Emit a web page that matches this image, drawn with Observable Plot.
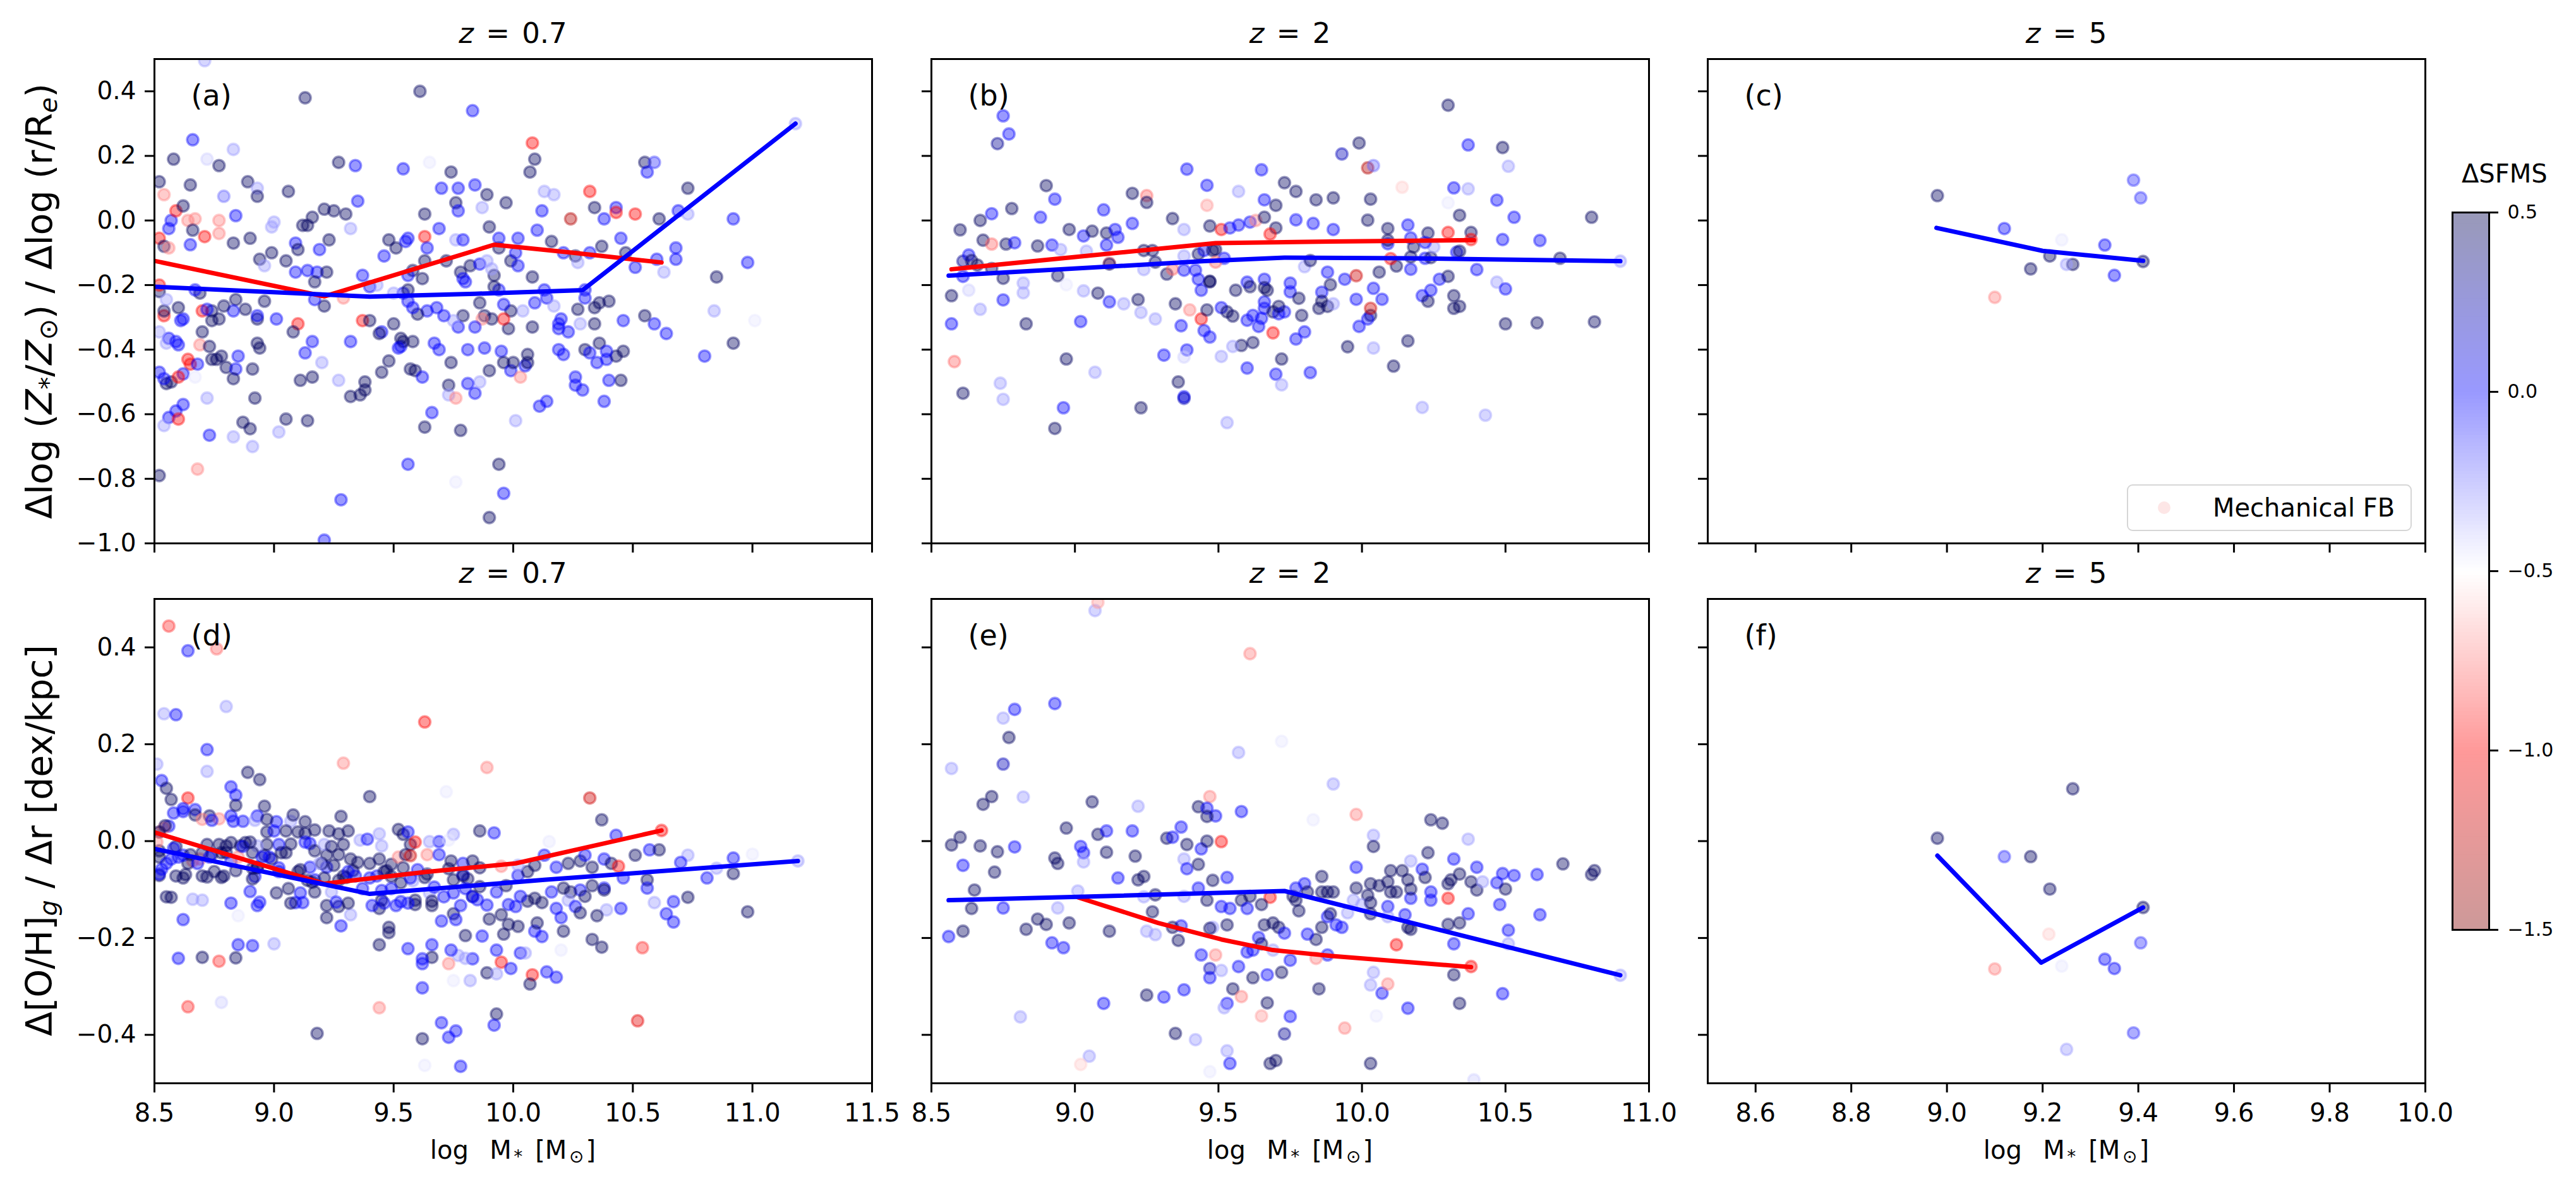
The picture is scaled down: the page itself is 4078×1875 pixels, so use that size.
<!DOCTYPE html>
<html><head><meta charset="utf-8">
<script src="https://cdn.jsdelivr.net/npm/d3@7"></script>
<script src="https://cdn.jsdelivr.net/npm/@observablehq/plot@0.6"></script>
<style>
html,body{margin:0;padding:0;background:#fff;}
#fig{position:relative;width:4078px;height:1875px;background:#fff;font-family:"DejaVu Sans",sans-serif;color:#000;overflow:hidden;}
.t{position:absolute;white-space:nowrap;line-height:1;}
.t sub{font-size:0.7em;vertical-align:-0.22em;line-height:0;}
.xl sub{margin:0 0.12em;}
.rot{transform:translate(-50%,-50%) rotate(-90deg);}
.ctr{transform:translateX(-50%);}
</style></head><body><div id="fig"></div>
<script>
// ---------- data: [log M*, gradient, ΔSFMS] ----------
const panelA = [[8.71,0.495,-0.3],[9.13,0.38,0.45],[9.61,0.40,0.45],[9.83,0.34,0],[8.66,0.25,0],[8.83,0.22,-0.3],[10.08,0.24,-1],[8.58,0.19,0.45],[8.72,0.19,-0.4],[8.77,0.17,0.45],[9.27,0.18,0.45],[9.34,0.17,0],[9.54,0.16,0],[9.65,0.18,-0.45],[10.09,0.19,0.45],[10.07,0.15,0.45],[10.55,0.18,0.45],[10.59,0.18,-0.1],[10.56,0.15,0],[10.73,0.10,0.45],[11.18,0.30,-0.3],[8.52,0.12,0.45],[8.54,0.08,-0.75],[8.65,0.11,0.45],[8.79,0.075,-0.2],[8.89,0.12,0.45],[8.93,0.10,-0.3],[8.93,0.075,0.45],[9.06,0.09,0.45],[9.21,0.035,0.45],[9.25,0.03,0.45],[9.30,0.02,0.45],[9.35,0.06,0],[9.16,0.01,0.45],[9.12,-0.015,0.45],[9.14,-0.015,0.45],[9.32,-0.025,-0.3],[9.63,0.02,0.45],[9.69,-0.025,0],[9.70,0.10,0],[9.74,0.15,0.45],[9.77,0.10,0],[9.84,0.11,0],[9.89,0.08,0.45],[9.97,0.055,0.45],[9.76,0.055,0.45],[9.77,0.03,0],[9.87,0.04,-0.3],[10.13,0.09,-0.3],[10.17,0.08,-0.3],[10.12,0.03,0],[10.10,-0.03,0],[9.90,-0.02,0.45],[10.32,0.09,-1],[10.24,0.005,-1.3],[10.34,0.04,0.45],[10.38,0.005,0],[10.43,0.04,0],[10.43,0.025,-1],[10.51,0.02,-1],[10.61,0.005,0.45],[10.69,0.03,0],[10.73,0.02,-0.3],[10.92,0.005,0],[8.57,0.0,0],[8.59,0.03,-1],[8.62,0.045,0.45],[8.64,0.0,-0.75],[8.67,0.005,-0.75],[8.77,0.0,-0.75],[8.84,0.015,0],[8.71,-0.05,-1],[8.77,-0.04,-0.75],[8.56,-0.025,0],[8.66,-0.03,0.45],[8.52,-0.055,-1],[8.54,-0.08,0.45],[8.56,-0.085,-0.75],[8.65,-0.075,0],[8.83,-0.07,0.45],[8.90,-0.055,0.45],[9.00,-0.005,-0.3],[8.99,-0.02,-0.3],[9.09,-0.07,0],[9.10,-0.09,0.45],[9.19,-0.09,0],[9.23,-0.06,0.45],[8.99,-0.10,0.45],[8.94,-0.12,0.45],[8.96,-0.14,-0.3],[9.05,-0.125,0.45],[9.09,-0.16,0],[9.14,-0.155,0],[9.18,-0.16,0],[9.22,-0.16,0.45],[9.17,-0.19,0.45],[9.21,-0.265,0.45],[9.17,-0.245,0],[9.29,-0.24,-0.75],[9.37,-0.17,0],[9.40,-0.205,0],[9.43,-0.20,-0.3],[9.46,-0.11,0],[9.48,-0.06,0.45],[9.51,-0.085,0.45],[9.55,-0.065,0],[9.56,-0.055,0],[9.63,-0.05,-1],[9.64,-0.085,0],[9.72,-0.125,0.45],[9.76,-0.06,-0.3],[9.79,-0.06,0],[9.63,-0.125,0.45],[9.58,-0.155,0.45],[9.56,-0.17,0],[9.62,-0.18,0.45],[9.78,-0.16,0.45],[9.79,-0.18,0],[9.80,-0.19,0],[9.82,-0.14,0.45],[9.86,-0.135,0],[9.89,-0.125,-0.3],[9.94,-0.085,0.45],[9.94,-0.055,0],[9.99,-0.125,0.45],[10.01,-0.10,0],[10.02,-0.055,0],[10.02,-0.14,0],[10.08,-0.175,0.45],[10.13,-0.215,0],[10.14,-0.24,0],[10.16,-0.065,0.45],[10.21,-0.10,0],[10.26,-0.11,0.45],[10.27,-0.13,-0.3],[10.32,-0.10,0],[10.37,-0.08,0.45],[10.45,-0.055,0],[10.47,-0.10,0.45],[10.51,-0.145,0],[10.60,-0.12,0],[10.63,-0.16,-0.3],[10.68,-0.085,0],[10.68,-0.12,0],[10.98,-0.13,0],[10.85,-0.175,0.45],[10.84,-0.28,-0.3],[11.01,-0.31,-0.45],[10.64,-0.35,0],[10.59,-0.32,0],[10.55,-0.295,0.45],[10.46,-0.31,0],[10.40,-0.25,0.45],[10.36,-0.255,0.45],[10.34,-0.32,0.45],[10.34,-0.27,0.45],[10.28,-0.32,-0.3],[10.27,-0.275,0.45],[10.30,-0.24,0],[10.30,-0.215,0],[10.23,-0.345,0],[10.19,-0.32,0],[10.19,-0.335,0],[10.20,-0.305,0],[10.17,-0.265,-0.3],[10.09,-0.255,0],[10.08,-0.33,0.45],[10.04,-0.28,-0.3],[9.99,-0.28,0.45],[9.98,-0.335,0.45],[9.96,-0.305,-1],[9.96,-0.26,0],[9.94,-0.215,0],[9.92,-0.205,0.45],[9.92,-0.17,0.45],[9.91,-0.15,-0.3],[9.88,-0.295,0.45],[9.91,-0.305,0.45],[9.86,-0.255,0.45],[9.87,-0.305,-0.75],[9.84,-0.33,0],[9.79,-0.295,0.45],[9.77,-0.33,0],[9.75,-0.31,-0.3],[9.71,-0.295,0],[9.68,-0.27,0],[9.64,-0.28,0],[9.60,-0.29,0.45],[9.58,-0.27,0],[9.56,-0.25,0],[9.54,-0.225,0],[9.56,-0.215,0.45],[9.50,-0.225,-0.3],[9.50,-0.32,0.45],[9.45,-0.345,0],[9.44,-0.35,0.45],[9.37,-0.31,-1],[9.40,-0.31,0.45],[9.32,-0.375,0],[9.16,-0.375,0],[9.10,-0.32,-1],[9.08,-0.345,0.45],[9.01,-0.305,0],[8.96,-0.25,0.45],[8.93,-0.305,0.45],[8.93,-0.295,0],[8.88,-0.275,0.45],[8.84,-0.245,0.45],[8.83,-0.28,0],[8.79,-0.265,0.45],[8.77,-0.305,0.45],[8.74,-0.31,0.45],[8.74,-0.28,0.45],[8.70,-0.28,-1],[8.70,-0.345,0.45],[8.72,-0.275,0],[8.69,-0.225,0.45],[8.67,-0.215,0],[8.62,-0.305,0],[8.60,-0.27,0.45],[8.61,-0.31,0],[8.54,-0.295,-1],[8.54,-0.28,0.45],[8.52,-0.22,0.45],[8.52,-0.20,-1],[8.55,-0.245,-0.3],[8.56,-0.365,0],[8.55,-0.38,-0.3],[8.60,-0.385,0],[8.52,-0.345,-0.3],[8.59,-0.375,0],[8.69,-0.385,-0.75],[8.73,-0.39,0.45],[8.74,-0.43,0.45],[8.76,-0.43,0.45],[8.78,-0.42,0.45],[8.80,-0.455,0.45],[8.85,-0.42,0],[8.91,-0.46,0.45],[8.93,-0.38,0.45],[8.94,-0.395,0.45],[8.64,-0.43,-1],[8.65,-0.445,-1],[8.68,-0.445,0],[8.62,-0.475,0],[8.57,-0.50,0.45],[8.55,-0.505,0.45],[8.52,-0.47,0],[8.54,-0.49,0],[8.60,-0.485,-1],[8.67,-0.485,-0.45],[8.84,-0.46,0],[8.83,-0.49,0.45],[8.72,-0.55,-0.3],[8.92,-0.55,0.45],[8.62,-0.57,0],[8.59,-0.59,0],[8.56,-0.61,0],[8.60,-0.615,-1],[8.54,-0.635,-0.3],[8.52,-0.79,0.45],[8.68,-0.77,-0.75],[8.73,-0.665,0],[8.83,-0.67,-0.3],[8.87,-0.625,0.45],[8.90,-0.645,0.45],[8.91,-0.70,-0.3],[9.02,-0.655,-0.3],[9.05,-0.615,0.45],[9.14,-0.62,0.45],[9.11,-0.495,0.45],[9.13,-0.41,0],[9.20,-0.44,-0.3],[9.16,-0.485,0.45],[9.27,-0.495,-0.3],[9.32,-0.545,0.45],[9.36,-0.54,0.45],[9.38,-0.525,0.45],[9.38,-0.50,0.45],[9.45,-0.47,0.45],[9.48,-0.435,0.45],[9.53,-0.39,0],[9.53,-0.365,0.45],[9.54,-0.375,0.45],[9.58,-0.375,0.45],[9.52,-0.395,0],[9.57,-0.46,0.45],[9.59,-0.465,0.45],[9.62,-0.485,0],[9.67,-0.38,0],[9.69,-0.40,0],[9.74,-0.44,0.45],[9.73,-0.51,0.45],[9.73,-0.54,-0.3],[9.76,-0.55,-0.75],[9.84,-0.535,0],[9.86,-0.50,-0.3],[9.81,-0.505,0],[9.81,-0.40,0],[9.88,-0.395,0],[9.90,-0.465,0.45],[9.95,-0.405,0],[9.96,-0.44,0.45],[9.99,-0.465,0],[10.00,-0.44,0.45],[10.03,-0.485,-0.75],[10.05,-0.45,0],[10.06,-0.415,0.45],[10.06,-0.44,0.45],[10.11,-0.575,0],[10.14,-0.56,0],[10.01,-0.62,-0.3],[9.66,-0.595,0],[9.63,-0.64,0.45],[9.78,-0.65,0.45],[9.56,-0.755,0],[9.76,-0.81,-0.45],[9.94,-0.755,0.45],[9.96,-0.845,0],[9.90,-0.92,0.45],[9.28,-0.865,0],[9.21,-0.99,0],[10.19,-0.40,0],[10.21,-0.415,0],[10.26,-0.485,0],[10.26,-0.51,0],[10.29,-0.525,0],[10.30,-0.40,0.45],[10.35,-0.44,0],[10.39,-0.43,0],[10.43,-0.42,0.45],[10.46,-0.405,0.45],[10.45,-0.495,0.45],[10.40,-0.495,0],[10.38,-0.56,0],[10.36,-0.38,0.45],[10.39,-0.405,0],[10.80,-0.42,0],[10.92,-0.38,0.45],[10.32,-0.41,0]];
const redA = [[8.5,-0.125],[9.21,-0.235],[9.92,-0.075],[10.25,-0.10],[10.62,-0.13]];
const blueA = [[8.5,-0.205],[9.40,-0.236],[9.84,-0.227],[10.29,-0.216],[11.18,0.30]];

const panelB = [[8.75,0.324,0],[8.77,0.268,0],[8.73,0.238,0.3],[10.30,0.357,0.45],[10.37,0.234,0],[10.49,0.226,0.45],[10.51,0.168,-0.3],[9.99,0.24,0.45],[9.93,0.206,0.2],[10.02,0.163,-1.3],[10.04,0.17,-0.2],[9.39,0.159,0],[9.65,0.157,0],[9.46,0.109,0],[9.57,0.09,-0.3],[9.73,0.117,0.45],[9.77,0.09,0.45],[9.66,0.064,0],[9.70,0.047,0.45],[9.84,0.064,0.45],[9.90,0.07,0.45],[10.03,0.066,0.45],[10.14,0.103,-0.6],[10.32,0.101,0],[10.37,0.098,-0.3],[10.47,0.063,0],[10.53,0.01,0],[10.80,0.01,0.45],[10.34,0.016,0.45],[10.30,0.055,-0.45],[8.90,0.108,0.45],[8.93,0.066,0],[9.20,0.084,0.45],[9.25,0.077,-0.8],[9.25,0.056,0.45],[9.46,0.047,-0.7],[9.10,0.033,0],[9.34,0.006,0.45],[9.38,-0.028,-0.3],[9.47,-0.017,0.45],[9.51,-0.028,-1],[9.54,-0.023,0],[9.57,-0.014,0],[9.61,-0.005,0],[9.63,0.0,-0.75],[9.66,0.01,0.45],[9.70,-0.023,0.45],[9.68,-0.042,-1],[9.77,0.002,0],[9.83,-0.009,0],[9.90,-0.028,0],[10.02,0.001,0.45],[10.09,-0.025,0.45],[10.16,-0.014,0],[10.23,-0.039,0.45],[10.30,-0.037,-1],[10.38,-0.037,0.45],[10.38,-0.059,-1],[10.49,-0.059,0],[10.62,-0.062,0],[10.69,-0.117,0.45],[10.90,-0.126,-0.3],[8.60,-0.029,0.45],[8.67,0.0,0.45],[8.71,0.021,0],[8.78,0.037,0.45],[8.88,0.01,0],[8.68,-0.061,0.45],[8.71,-0.073,-0.8],[8.76,-0.073,0.45],[8.79,-0.069,0],[8.87,-0.079,0.45],[8.92,-0.076,0],[8.95,-0.09,-0.3],[8.98,-0.028,0.45],[9.03,-0.048,0],[9.06,-0.033,0.45],[9.11,-0.039,0.45],[9.14,-0.028,0],[9.11,-0.076,0],[9.15,-0.052,0],[9.20,-0.009,0],[9.04,-0.095,-0.3],[9.12,-0.132,-0.8],[9.12,-0.135,0.45],[9.24,-0.093,0.45],[9.27,-0.093,0.45],[9.28,-0.129,0.45],[9.24,-0.152,-0.3],[9.32,-0.166,0.45],[9.34,-0.151,-0.8],[9.38,-0.11,-0.3],[9.43,-0.104,0.45],[9.45,-0.093,0],[9.48,-0.093,0.45],[9.49,-0.09,0.45],[9.52,-0.117,0],[9.49,-0.129,-0.8],[9.42,-0.154,0],[9.47,-0.188,0.45],[9.43,-0.182,0],[9.38,-0.154,0],[8.61,-0.126,0.3],[8.63,-0.107,0],[8.64,-0.124,0.45],[8.66,-0.138,0.45],[8.71,-0.149,0.45],[8.75,-0.179,0.45],[8.61,-0.173,0],[8.63,-0.216,-0.4],[8.57,-0.233,0.45],[8.57,-0.32,0],[8.67,-0.275,-0.3],[8.75,-0.246,0],[8.82,-0.194,-0.3],[8.82,-0.224,-0.3],[8.83,-0.32,0.45],[8.94,-0.171,0.45],[8.97,-0.199,-0.45],[9.03,-0.218,-0.3],[9.08,-0.225,0.45],[9.12,-0.252,0],[9.17,-0.258,-0.3],[9.22,-0.245,0.45],[9.02,-0.313,0],[9.23,-0.285,-0.3],[9.28,-0.305,-0.3],[9.35,-0.258,0.45],[9.37,-0.326,0],[9.40,-0.277,-0.75],[9.44,-0.305,-1],[9.46,-0.277,0.45],[9.45,-0.341,0],[9.47,-0.361,0],[9.44,-0.216,0],[9.47,-0.19,0.45],[9.51,-0.27,0],[9.53,-0.283,0.45],[9.55,-0.296,0.45],[9.56,-0.216,0.45],[9.60,-0.191,0],[9.61,-0.205,0.45],[9.60,-0.309,0],[9.62,-0.294,0],[9.64,-0.328,0],[9.65,-0.303,0],[9.66,-0.272,0],[9.66,-0.252,0],[9.67,-0.216,0.45],[9.66,-0.182,0],[9.66,-0.208,0.45],[9.69,-0.283,0.45],[9.71,-0.289,0],[9.73,-0.283,0],[9.69,-0.348,-1],[9.71,-0.266,0.45],[9.75,-0.221,0],[9.78,-0.241,0.45],[9.80,-0.345,0],[9.77,-0.367,0],[9.79,-0.294,0.45],[9.75,-0.194,0],[9.80,-0.143,-0.3],[9.82,-0.124,0.45],[9.88,-0.16,0],[9.89,-0.199,0.45],[9.86,-0.222,0],[9.86,-0.25,0.45],[9.85,-0.272,0.45],[9.88,-0.266,0.45],[9.90,-0.258,-0.3],[9.94,-0.182,0],[9.98,-0.171,-1.2],[9.98,-0.244,0],[10.03,-0.294,0.45],[10.02,-0.305,0],[10.03,-0.272,-1.2],[9.99,-0.328,0],[10.04,-0.21,0],[10.07,-0.244,0],[10.06,-0.16,0.45],[10.12,-0.141,0.45],[10.10,-0.118,-1],[10.09,-0.072,0],[10.09,-0.061,0.45],[10.17,-0.054,0],[10.18,-0.082,0.45],[10.17,-0.151,0],[10.22,-0.117,0],[10.24,-0.115,0.45],[10.25,-0.082,-0.3],[10.22,-0.068,0],[10.17,-0.113,0.45],[10.21,-0.233,0],[10.23,-0.25,0.45],[10.24,-0.216,0],[10.27,-0.182,0],[10.30,-0.173,0.45],[10.32,-0.233,0.45],[10.32,-0.272,0.45],[10.34,-0.266,0.45],[10.40,-0.152,0],[10.33,-0.098,0],[10.34,-0.095,0.45],[10.47,-0.191,-0.3],[10.50,-0.212,0],[10.50,-0.32,0.45],[10.61,-0.317,0.45],[10.81,-0.314,0.45],[10.16,-0.373,0.45],[10.04,-0.395,-0.3],[9.95,-0.391,0.45],[10.11,-0.451,0.45],[9.82,-0.471,0],[9.70,-0.476,0],[9.72,-0.509,-0.3],[9.72,-0.429,0.45],[9.62,-0.378,0.45],[9.58,-0.387,0.45],[9.60,-0.457,0],[9.55,-0.39,-0.3],[9.51,-0.421,-0.3],[9.39,-0.401,0],[9.38,-0.423,-0.4],[9.31,-0.417,0],[9.38,-0.546,0],[9.36,-0.50,0.45],[9.38,-0.551,0.2],[9.53,-0.626,-0.3],[9.23,-0.58,0.45],[8.96,-0.58,0],[8.93,-0.644,0.45],[8.97,-0.429,0.45],[9.07,-0.47,-0.3],[8.74,-0.504,-0.3],[8.75,-0.554,-0.3],[8.61,-0.535,0.45],[8.58,-0.437,-0.8],[10.21,-0.579,-0.3],[10.43,-0.603,-0.3]];
const redB = [[8.57,-0.151],[9.49,-0.07],[9.89,-0.065],[10.39,-0.061]];
const blueB = [[8.56,-0.171],[9.45,-0.126],[9.73,-0.115],[10.16,-0.117],[10.90,-0.126]];

const panelC = [[8.98,0.077,0.45],[9.12,-0.025,0],[9.24,-0.06,-0.45],[9.33,-0.076,0],[9.39,0.125,-0.1],[9.405,0.07,-0.1],[9.41,-0.127,0.45],[9.215,-0.11,0.45],[9.175,-0.15,0.45],[9.263,-0.136,0.45],[9.25,-0.136,-0.3],[9.35,-0.17,0],[9.10,-0.238,-0.75]];
const redC = [];
const blueC = [[8.978,-0.023],[9.2,-0.094],[9.41,-0.125]];

const panelD = [[8.56,0.444,-0.9],[8.64,0.393,0],[8.76,0.397,-0.8],[8.80,0.278,-0.3],[8.54,0.263,-0.3],[8.59,0.261,0],[8.67,0.259,-0.5],[8.67,0.197,-0.5],[8.72,0.189,0],[8.51,0.159,-0.3],[8.72,0.144,-0.3],[8.89,0.142,0.45],[8.94,0.127,0.45],[8.82,0.112,0],[8.84,0.095,0],[8.53,0.125,0],[8.55,0.109,0.45],[8.57,0.086,0.45],[8.64,0.089,-1],[8.96,0.072,0.45],[8.67,0.065,0],[8.62,0.061,0],[8.73,0.052,0.45],[8.77,0.046,-0.75],[8.83,0.041,0],[8.93,0.052,0],[9.01,0.040,0],[9.07,0.041,-0.3],[9.13,0.040,0.45],[9.28,0.051,0.45],[9.40,0.092,0.45],[9.63,0.246,-1],[9.29,0.161,-0.75],[9.89,0.152,-0.75],[9.72,0.102,-0.45],[10.32,0.089,-1.2],[10.37,0.044,0.45],[10.62,0.022,-1],[9.86,0.021,0.45],[9.92,0.017,0],[9.75,0.014,-0.3],[9.69,-0.001,0],[9.65,-0.001,-0.3],[9.45,-0.010,-0.3],[9.54,0.014,0.45],[9.57,-0.007,0.45],[10.15,-0.001,-0.45],[10.43,0.012,0],[10.51,-0.029,0.45],[10.57,-0.018,0],[10.61,-0.018,0.45],[10.73,-0.029,-0.3],[10.92,-0.035,0],[11.00,-0.027,-0.45],[10.70,-0.044,0],[10.81,-0.076,0],[10.85,-0.056,-0.3],[10.92,-0.067,0.45],[11.19,-0.041,-0.3],[10.98,-0.146,0.45],[10.73,-0.116,0.45],[10.67,-0.125,0],[10.59,-0.127,-0.3],[10.64,-0.150,0],[10.67,-0.167,0],[10.56,-0.080,0.45],[10.56,-0.097,0],[10.45,-0.139,0],[10.39,-0.142,-0.3],[10.35,-0.154,0.45],[10.33,-0.203,0.45],[10.37,-0.219,0.45],[10.54,-0.220,-0.9],[10.52,-0.371,-1.1],[10.21,-0.186,0.45],[10.20,-0.158,0],[10.20,-0.225,-0.45],[10.18,-0.281,0],[10.14,-0.270,0],[10.08,-0.276,-1],[10.07,-0.295,0.45],[10.03,-0.231,0],[10.05,-0.231,-0.3],[10.09,-0.186,0],[10.12,-0.197,0],[10.10,-0.169,0.45],[10.02,-0.176,0.45],[9.98,-0.172,0.45],[9.96,-0.192,0.45],[9.95,-0.250,-1],[9.99,-0.263,0],[9.93,-0.225,0],[9.89,-0.272,0.45],[9.93,-0.274,-0.3],[9.93,-0.357,0.45],[9.92,-0.380,0],[9.82,-0.288,-0.3],[9.75,-0.288,-0.45],[9.83,-0.243,0],[9.87,-0.196,0],[9.80,-0.195,0.45],[9.80,-0.242,-0.3],[9.77,-0.236,-0.3],[9.73,-0.253,-0.75],[9.74,-0.225,0],[9.66,-0.214,0],[9.66,-0.240,0.45],[9.62,-0.243,0],[9.56,-0.222,0],[9.62,-0.253,0],[9.62,-0.303,0],[9.70,-0.375,0],[9.76,-0.392,0],[9.73,-0.405,0],[9.62,-0.408,0.45],[9.78,-0.465,0],[9.63,-0.463,-0.45],[9.18,-0.397,0.45],[9.44,-0.344,-0.75],[9.48,-0.189,0.45],[9.48,-0.178,0.45],[9.44,-0.214,0.45],[9.44,-0.139,0.45],[9.45,-0.122,0.45],[9.53,-0.125,0],[9.59,-0.131,0.45],[9.59,-0.122,0.45],[9.65,-0.107,-0.3],[9.70,-0.165,0],[9.75,-0.150,0.45],[9.76,-0.162,0],[9.78,-0.133,0],[9.83,-0.114,0.45],[9.85,-0.121,0],[9.89,-0.132,0],[9.90,-0.161,0.45],[9.81,-0.078,0.45],[9.75,-0.080,0.45],[9.79,-0.069,0],[9.73,-0.057,0.45],[9.67,-0.095,0],[9.63,-0.075,0.45],[9.58,-0.082,-0.3],[9.53,-0.086,0.45],[9.49,-0.073,0.45],[9.47,-0.061,0.45],[9.49,-0.048,0.45],[9.44,-0.037,0.45],[9.40,-0.046,0.45],[9.35,-0.044,0.45],[9.33,-0.061,0.45],[9.30,-0.075,0.45],[9.27,-0.028,0.45],[9.24,-0.105,-0.3],[9.27,-0.135,0.45],[9.22,-0.158,0.45],[9.28,-0.175,0],[9.32,-0.152,-0.3],[9.17,-0.105,0.45],[9.09,-0.127,0],[9.12,-0.127,0],[9.17,-0.080,0],[9.10,-0.063,0.45],[9.15,-0.054,0],[9.22,-0.054,0],[9.20,-0.046,0.45],[9.22,-0.029,0.45],[9.23,0.021,0.45],[9.31,0.021,0.45],[9.17,0.023,0.45],[9.13,0.016,0.45],[9.07,-0.006,0.45],[9.05,-0.024,0.45],[9.02,-0.007,0],[9.02,-0.063,0],[8.99,-0.037,0.45],[8.96,-0.029,0.45],[8.93,-0.054,0.45],[8.92,-0.073,0],[8.90,-0.104,0],[8.93,-0.133,0],[8.91,-0.078,0.45],[8.97,-0.007,0.45],[8.93,-0.010,-0.3],[8.88,-0.003,0.45],[8.86,-0.010,0.45],[8.82,-0.003,0.45],[8.80,-0.010,0.45],[8.78,-0.024,0.45],[8.74,-0.027,0.45],[8.72,-0.007,0.45],[8.69,-0.037,-0.75],[8.66,-0.041,-0.75],[8.64,-0.046,0.45],[8.63,-0.069,0.45],[8.62,-0.029,0],[8.59,-0.011,0.45],[8.57,-0.037,0],[8.56,0.031,0],[8.54,0.027,-0.75],[8.52,0.018,-0.75],[8.52,-0.020,0.45],[8.52,-0.071,0.45],[8.53,-0.058,0],[8.57,-0.116,0.45],[8.62,-0.162,0],[8.70,-0.122,-0.3],[8.72,-0.074,0.45],[8.78,-0.075,0.45],[8.85,-0.154,-0.45],[8.84,-0.061,0.45],[8.91,-0.056,0.45],[9.00,-0.212,-0.3],[8.91,-0.216,0],[8.85,-0.214,0],[8.84,-0.241,0.45],[8.77,-0.248,-0.9],[8.70,-0.240,0.45],[8.60,-0.242,0],[8.64,-0.342,-0.9],[8.78,-0.333,-0.4],[10.13,-0.029,0],[10.18,-0.054,0],[10.23,-0.046,0.45],[10.28,-0.041,0.45],[10.30,-0.029,0],[10.33,-0.054,0.45],[10.38,-0.037,0],[10.41,-0.046,0.45],[10.44,-0.052,-1],[10.46,-0.076,0],[10.38,-0.097,0],[10.33,-0.092,0.45],[10.28,-0.101,0],[10.24,-0.105,0.45],[10.21,-0.097,0.45],[10.16,-0.105,0],[10.12,-0.127,0.45],[10.09,-0.118,0.45],[10.06,-0.124,0.45],[10.03,-0.114,0],[10.01,-0.135,0],[9.98,-0.131,0],[9.95,-0.152,0.45],[9.93,-0.105,0],[9.97,-0.092,0.45],[10.02,-0.071,0],[10.06,-0.063,0.45],[10.09,-0.050,0.45],[9.95,-0.052,-0.75],[10.02,-0.050,-0.3],[10.18,-0.139,0],[10.23,-0.122,-0.3],[10.26,-0.135,0],[10.28,-0.148,0.45],[10.30,-0.114,0.45],[10.38,-0.101,0.45],
[8.52,0.019,0.45],[8.545,0.032,0.45],[8.58,0.058,0],[8.62,0.067,0],[8.67,0.054,0.45],[8.70,0.045,-0.75],[8.74,0.043,0],[8.82,0.052,0],[8.84,0.074,0.45],[8.87,0.041,0],[8.92,0.043,-0.3],[8.97,0.045,0.45],[8.97,0.019,0.45],[9.00,0.021,0],[9.05,0.021,0.45],[9.08,0.054,0.45],[9.10,0.019,0.45],[9.13,-0.002,0],[9.15,-0.005,0],[9.17,-0.02,0.45],[9.21,-0.007,-0.3],[9.24,-0.011,0.45],[9.27,0.015,0.45],[9.29,-0.007,0.45],[9.32,-0.037,0.45],[9.36,0.002,-0.3],[9.39,0.004,0],[9.44,0.015,-0.3],[9.52,0.024,0.45],[9.56,0.019,0],[9.59,-0.002,-1],[9.52,-0.033,-0.75],[9.55,-0.028,0.45],[9.57,-0.03,-1.2],[9.64,-0.028,-0.75],[9.69,-0.028,0],[9.73,0.002,-0.45],[9.74,-0.041,0.45],[9.79,-0.046,0],[9.83,-0.041,0.45],[9.86,-0.055,0.45],[8.51,-0.002,-0.75],[8.52,-0.033,0.45],[8.55,-0.046,0],[8.52,-0.068,0],[8.59,-0.072,0.45],[8.62,-0.076,0.45],[8.58,-0.015,0],[8.60,-0.033,0],[8.65,-0.028,0.45],[8.68,-0.046,0],[8.70,-0.024,0.45],[8.70,-0.072,0.45],[8.75,-0.063,0.45],[8.73,-0.033,0],[8.77,-0.007,0.45],[8.80,-0.024,0.45],[8.79,-0.072,0.45],[8.82,-0.041,0],[8.85,-0.033,-0.75],[8.87,-0.011,0],[8.90,-0.002,0.45],[8.91,-0.024,0.45],[8.93,-0.055,0.45],[8.95,-0.033,0],[8.98,-0.033,0],[9.02,-0.055,0],[9.03,-0.024,0.45],[9.01,-0.107,0.45],[9.06,-0.098,0.45],[9.11,-0.059,0.45],[9.11,-0.107,0],[9.14,-0.081,0.45],[9.16,-0.085,0.45],[9.19,-0.046,-0.3],[9.21,-0.076,0.45],[9.25,-0.05,0.45],[9.27,-0.081,0.45],[9.29,-0.072,0.45],[9.31,-0.063,0],[9.34,-0.072,0],[9.37,-0.098,0],[9.40,-0.076,0],[9.43,-0.072,0],[9.46,-0.063,0.45],[9.45,-0.102,0],[9.49,-0.098,0],[9.54,-0.055,0.45],[9.57,-0.076,0],[9.60,-0.059,0],[9.64,-0.068,0.45],[9.66,-0.124,0.45],[9.71,-0.115,0],[9.75,-0.107,0],[9.79,-0.072,0.45],[9.80,-0.098,0],[9.83,-0.115,0],[9.86,-0.094,0.45],[8.55,-0.115,0.45],[8.66,-0.12,-0.3],[8.82,-0.128,0],[8.94,-0.126,0],[9.07,-0.128,0.45],[9.22,-0.133,0.45],[9.26,-0.126,0],[9.31,-0.128,0.45],[9.41,-0.133,0],[9.46,-0.128,0],[9.51,-0.133,0],[9.56,-0.128,0],[9.66,-0.133,0.45]];
const redD = [[8.5,0.018],[9.21,-0.088],[9.63,-0.064],[10.01,-0.046],[10.62,0.022]];
const blueD = [[8.5,-0.016],[9.40,-0.109],[10.13,-0.080],[11.19,-0.041]];

const panelE = [[9.07,0.476,-0.3],[9.08,0.493,-0.7],[9.61,0.387,-0.75],[8.93,0.284,0],[8.79,0.272,0],[8.75,0.254,-0.3],[8.77,0.214,0.45],[8.75,0.159,0.2],[8.57,0.15,-0.3],[9.72,0.206,-0.45],[9.57,0.183,-0.3],[9.90,0.118,-0.3],[8.71,0.092,0.45],[8.68,0.076,0.45],[8.82,0.091,-0.3],[9.06,0.081,0.45],[9.22,0.072,-0.3],[9.47,0.092,-0.75],[9.43,0.071,0.45],[9.46,0.068,0],[9.49,0.052,0],[9.46,0.051,0.45],[9.58,0.061,0],[9.83,0.044,-0.45],[9.98,0.055,-0.75],[10.24,0.044,0.45],[10.28,0.037,0.45],[10.04,0.012,-0.3],[10.04,-0.011,0.45],[10.37,0.004,-0.3],[8.60,0.008,0.45],[8.57,-0.008,0.45],[8.67,-0.01,0.45],[8.73,-0.022,0.45],[8.79,-0.012,0],[8.61,-0.05,0],[8.65,-0.101,0.45],[8.72,-0.064,0.45],[8.64,-0.139,0.45],[8.75,-0.138,0],[8.56,-0.197,0],[8.61,-0.186,0.45],[8.83,-0.182,0.45],[8.87,-0.161,0.45],[8.90,-0.172,0.45],[8.92,-0.21,0],[8.96,-0.22,0],[8.98,-0.169,0.45],[9.12,-0.186,0.45],[8.94,-0.138,-0.3],[9.01,-0.103,-0.3],[8.93,-0.035,0.45],[8.94,-0.046,0.45],[8.97,0.027,0.45],[9.02,-0.011,0],[9.03,-0.024,0],[9.03,-0.043,-0.3],[9.08,0.014,0.45],[9.11,0.021,0],[9.11,-0.023,0.45],[9.20,0.021,0],[9.21,-0.031,0.45],[9.15,-0.076,0],[9.22,-0.08,0.45],[9.24,-0.073,0.45],[9.24,-0.115,-0.3],[9.28,-0.111,0.45],[9.27,-0.146,0.45],[9.25,-0.186,-0.3],[9.28,-0.193,-0.3],[9.32,0.006,0.45],[9.34,0.008,0],[9.37,0.029,0],[9.39,-0.007,0.45],[9.38,-0.037,-0.3],[9.39,-0.057,0],[9.43,-0.048,0.45],[9.44,-0.016,0],[9.46,0.0,0.45],[9.51,-0.001,-1],[9.43,-0.097,0],[9.48,-0.081,0.45],[9.53,-0.075,0],[9.46,-0.122,0.45],[9.51,-0.135,0],[9.54,-0.139,0],[9.48,-0.178,-0.3],[9.47,-0.18,0.45],[9.53,-0.173,0.45],[9.38,-0.114,-0.3],[9.37,-0.175,0],[9.34,-0.178,0.45],[9.36,-0.205,0.45],[9.44,-0.235,0],[9.49,-0.235,-0.75],[9.47,-0.263,0.2],[9.47,-0.282,0],[9.51,-0.267,-0.3],[9.57,-0.259,0],[9.55,-0.305,0.45],[9.58,-0.321,-0.75],[9.53,-0.335,0],[9.52,-0.344,-0.3],[9.62,-0.282,0.45],[9.67,-0.276,0],[9.67,-0.334,0.45],[9.72,-0.271,0.45],[9.65,-0.361,-0.7],[9.75,-0.362,0],[9.73,-0.398,0.3],[9.85,-0.305,0.45],[9.94,-0.386,-0.75],[10.05,-0.361,-0.45],[10.04,-0.271,-0.3],[10.03,-0.297,-0.3],[10.07,-0.314,0],[10.09,-0.295,-0.75],[10.16,-0.345,0],[10.32,-0.276,0.45],[10.34,-0.335,0.45],[10.49,-0.315,0],[10.38,-0.259,-1],[10.90,-0.277,-0.3],[9.42,-0.41,-0.3],[9.35,-0.397,0.45],[9.53,-0.433,-0.3],[9.54,-0.459,0],[9.68,-0.459,0.45],[9.70,-0.453,0.45],[10.03,-0.459,0.45],[9.05,-0.444,-0.3],[9.02,-0.461,-0.6],[8.81,-0.363,-0.3],[9.10,-0.335,0],[9.25,-0.318,0.45],[9.31,-0.322,0],[9.38,-0.307,0],[9.47,-0.476,-0.45],[10.39,-0.493,-0.4],[9.68,-0.116,-1],[9.61,-0.114,0.45],[9.58,-0.122,0.45],[9.60,-0.139,0],[9.65,-0.131,0.45],[9.66,-0.173,0.45],[9.69,-0.169,0.45],[9.71,-0.178,0.45],[9.64,-0.199,0],[9.65,-0.212,0.45],[9.62,-0.225,0],[9.60,-0.229,0],[9.69,-0.225,-0.3],[9.73,-0.19,0],[9.75,-0.246,0],[9.78,-0.144,0.45],[9.76,-0.114,0.45],[9.77,-0.122,0.45],[9.80,-0.088,0],[9.77,-0.097,0],[9.81,-0.105,0.45],[9.84,-0.203,0.45],[9.81,-0.192,0],[9.86,-0.105,0.45],[9.88,-0.105,0.45],[9.90,-0.105,0.45],[9.86,-0.073,0.45],[9.86,-0.178,0.45],[9.88,-0.156,0],[9.91,-0.173,0],[9.89,-0.15,0.45],[9.93,-0.178,0],[9.95,-0.148,-0.3],[9.98,-0.097,0.45],[9.97,-0.122,-0.3],[9.98,-0.054,0],[10.03,-0.088,0.45],[10.02,-0.112,0.45],[10.00,-0.131,-0.3],[10.03,-0.127,0.45],[10.03,-0.15,0.45],[10.06,-0.092,0.45],[10.09,-0.084,0.45],[10.10,-0.105,0.45],[10.10,-0.061,0.45],[10.14,-0.061,0.45],[10.12,-0.105,0.45],[10.09,-0.135,0],[10.09,-0.156,-0.3],[10.15,-0.152,0],[10.16,-0.178,0.45],[10.17,-0.182,0.45],[10.17,-0.118,0],[10.17,-0.099,0.45],[10.16,-0.08,0.45],[10.17,-0.041,-0.3],[10.21,-0.058,0],[10.23,-0.024,0.45],[10.22,-0.075,0.45],[10.24,-0.105,0],[10.24,-0.122,0],[10.30,-0.088,0.45],[10.31,-0.08,0.45],[10.32,-0.037,0],[10.34,-0.068,0.45],[10.30,-0.118,-1],[10.30,-0.172,0.45],[10.34,-0.169,0.45],[10.32,-0.212,0],[10.38,-0.084,0.45],[10.40,-0.101,0.45],[10.40,-0.054,0],[10.37,-0.15,0],[10.42,-0.084,-0.3],[10.47,-0.086,0],[10.48,-0.131,0],[10.49,-0.067,0],[10.50,-0.099,0.45],[10.53,-0.071,0],[10.51,-0.184,0],[10.51,-0.212,-0.3],[10.61,-0.069,0],[10.62,-0.152,0],[10.70,-0.047,0.45],[10.80,-0.069,0.45],[10.81,-0.061,0.45],[10.12,-0.214,-1],[9.88,-0.235,0],[9.84,-0.242,-0.75]];
const redE = [[9.01,-0.116],[9.29,-0.169],[9.51,-0.203],[9.69,-0.225],[9.89,-0.237],[10.38,-0.26]];
const blueE = [[8.56,-0.122],[9.01,-0.115],[9.73,-0.103],[10.90,-0.277]];

const panelF = [[8.98,0.006,0.45],[9.12,-0.032,-0.1],[9.175,-0.032,0.45],[9.263,0.108,0.45],[9.215,-0.099,0.45],[9.213,-0.192,-0.6],[9.10,-0.264,-0.75],[9.24,-0.258,-0.45],[9.33,-0.244,0],[9.35,-0.263,0],[9.405,-0.21,-0.1],[9.41,-0.137,0.45],[9.39,-0.396,-0.1],[9.25,-0.43,-0.3]];
const redF = [];
const blueF = [[8.98,-0.03],[9.197,-0.251],[9.41,-0.137]];

// ---------- ticks / labels ----------
const xTicksA = [8.5,9.0,9.5,10.0,10.5,11.0,11.5];
const xTicksB = [8.5,9.0,9.5,10.0,10.5,11.0];
const xTicksC = [8.6,8.8,9.0,9.2,9.4,9.6,9.8,10.0];
const yTicksTop = [-1.0,-0.8,-0.6,-0.4,-0.2,0.0,0.2,0.4];
const yTicksBottom = [-0.4,-0.2,0.0,0.2,0.4];
const cbTicks = [0.5,0.0,-0.5,-1.0,-1.5];
const redshifts = ["0.7","2","5"];
const letters = ["(a)","(b)","(c)","(d)","(e)","(f)"];

// ---------- layout ----------
const fig = document.getElementById("fig");
const FW = 1136, FH = 767;
const colLeft = [244,1474,2703];
const rowTop = [93,948];
const ML = 150, MR = 8, MT = 8, MB = 90;
const cmapDomain = [-1.5,-1.0,-0.5,0.0,0.5];
const cmapRange = ["#800000","#ff0000","#ffffff","#0000ff","#00004d"];
const cbRange = ["#cc9999","#ff9999","#ffffff","#9999ff","#9999b8"];
const fmt = d3.format(".1f");
const blank = () => "";

function panel(o){
  const p = Plot.plot({
    width: ML+FW+MR, height: MT+FH+MB,
    marginLeft: ML, marginRight: MR, marginTop: MT, marginBottom: MB,
    x: {domain: o.xd, label: null},
    y: {domain: o.yd, label: null},
    color: {type: "linear", domain: cmapDomain, range: cmapRange, clamp: true, interpolate: "rgb"},
    style: {fontFamily: "DejaVu Sans", background: "transparent", color: "black", overflow: "visible"},
    marks: [
      Plot.dot(o.pts, {x: d=>d[0], y: d=>d[1], fill: d=>d[2], stroke: d=>d[2], r: 9,
        fillOpacity: 0.4, strokeOpacity: 0.4, strokeWidth: 3.6, clip: true}),
      Plot.line(o.red, {x: d=>d[0], y: d=>d[1], stroke: "#ff0000", strokeWidth: 7, clip: true}),
      Plot.line(o.blue, {x: d=>d[0], y: d=>d[1], stroke: "#0000ff", strokeWidth: 7, clip: true}),
      Plot.frame({stroke: "black", strokeWidth: 3}),
      Plot.axisX(o.xt, {tickSize: 15, tickPadding: 17, strokeWidth: 3, fontSize: 40,
        tickFormat: o.showX ? fmt : blank, label: null}),
      Plot.axisY(o.yt, {tickSize: 15, tickPadding: 14, strokeWidth: 3, fontSize: 39,
        tickFormat: o.showY ? fmt : blank, label: null}),
      Plot.text([o.letter], {text: d=>d, frameAnchor: "top-left", dx: 58, dy: 41,
        textAnchor: "start", lineAnchor: "top", fontSize: 46})
    ]
  });
  p.style.position = "absolute";
  p.style.left = (o.L - ML) + "px";
  p.style.top = (o.T - MT) + "px";
  fig.appendChild(p);
}

const tops = [
  {pts: panelA, red: redA, blue: blueA, xd: [8.5,11.5], xt: xTicksA},
  {pts: panelB, red: redB, blue: blueB, xd: [8.5,11.0], xt: xTicksB},
  {pts: panelC, red: redC, blue: blueC, xd: [8.5,10.0], xt: xTicksC}
];
const bottoms = [
  {pts: panelD, red: redD, blue: blueD, xd: [8.5,11.5], xt: xTicksA},
  {pts: panelE, red: redE, blue: blueE, xd: [8.5,11.0], xt: xTicksB},
  {pts: panelF, red: redF, blue: blueF, xd: [8.5,10.0], xt: xTicksC}
];
tops.forEach((o,i) => panel({...o, yd: [-1.0,0.5], yt: yTicksTop, showX: false, showY: i===0,
  letter: letters[i], L: colLeft[i], T: rowTop[0]}));
bottoms.forEach((o,i) => panel({...o, yd: [-0.5,0.5], yt: yTicksBottom, showX: true, showY: i===0,
  letter: letters[i+3], L: colLeft[i], T: rowTop[1]}));

// ---------- colorbar ----------
const cbL = 3882, cbT = 336, cbW = 58, cbH = 1136;
const steps = d3.range(200);
const cb = Plot.plot({
  width: 5+cbW+120, height: 5+cbH+5,
  marginLeft: 5, marginRight: 120, marginTop: 5, marginBottom: 5,
  x: {domain: [0,1], axis: null},
  y: {domain: [-1.5,0.5], label: null},
  color: {type: "linear", domain: cmapDomain, range: cbRange, interpolate: "rgb"},
  style: {fontFamily: "DejaVu Sans", background: "transparent", color: "black", overflow: "visible"},
  marks: [
    Plot.rect(steps, {x1: 0, x2: 1, y1: i => -1.5 + i*0.01, y2: i => -1.5 + (i+1)*0.01,
      fill: i => -1.5 + (i+0.5)*0.01, insetTop: -0.6, insetBottom: -0.6}),
    Plot.frame({stroke: "black", strokeWidth: 3}),
    Plot.axisY(cbTicks, {anchor: "right", tickSize: 14, tickPadding: 15, strokeWidth: 3,
      fontSize: 30, tickFormat: fmt, label: null})
  ]
});
cb.style.position = "absolute";
cb.style.left = (cbL-5) + "px";
cb.style.top = (cbT-5) + "px";
fig.appendChild(cb);

// ---------- text ----------
function addText(html, css, cls){
  const d = document.createElement("div");
  d.className = "t " + (cls||"");
  d.innerHTML = html;
  Object.assign(d.style, css);
  fig.appendChild(d);
  return d;
}
[0,1].forEach(r => colLeft.forEach((L,i) => {
  const base = r===0 ? 68 : 923;
  addText(`<i>z</i> = ${redshifts[i]}`, {left: (L+FW/2)+"px", top: (base-38)+"px", fontSize: "45px", wordSpacing: "5px"}, "ctr");
}));
colLeft.forEach(L => addText("log&nbsp; M<sub>*</sub> [M<sub>⊙</sub>]",
  {left: (L+FW/2)+"px", top: (1835-34)+"px", fontSize: "40px", wordSpacing: "4px"}, "ctr xl"));
addText("Δlog (<i>Z</i><sub>*</sub>/<i>Z</i><sub>⊙</sub>) / Δlog (r/R<sub><i>e</i></sub>)",
  {left: "62px", top: "477px", fontSize: "57px"}, "rot");
addText("Δ[O/H]<sub><i>g</i></sub> / Δr [dex/kpc]",
  {left: "62px", top: "1331px", fontSize: "57px"}, "rot");
addText("ΔSFMS", {left: "3897px", top: (289-34)+"px", fontSize: "40px"});

// legend in panel (c)
const lg = document.createElement("div");
Object.assign(lg.style, {position: "absolute", left: "3367px", top: "767px", width: "451px", height: "74px",
  boxSizing: "border-box", border: "2px solid #d6d6d6", borderRadius: "9px", background: "rgba(255,255,255,0.8)"});
fig.appendChild(lg);
const mk = document.createElement("div");
Object.assign(mk.style, {position: "absolute", left: (3426-10)+"px", top: (804-10)+"px", width: "20px", height: "20px",
  borderRadius: "50%", background: "#fde6e6"});
fig.appendChild(mk);
addText("Mechanical FB", {left: "3503px", top: (818-34)+"px", fontSize: "40px"});
</script></body></html>
